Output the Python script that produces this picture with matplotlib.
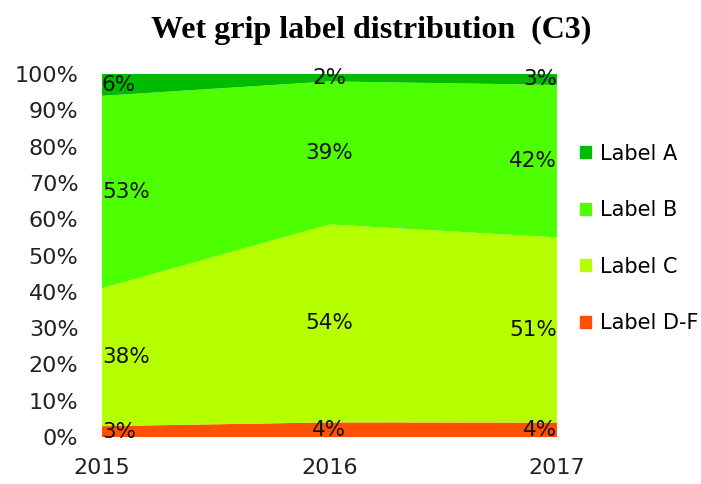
import numpy as np
import matplotlib
matplotlib.use("Agg")
import matplotlib.pyplot as plt
from matplotlib.patches import Patch

years = ["2015", "2016", "2017"]
labels = ["Label D-F", "Label C", "Label B", "Label A"]
values = {
    "Label D-F": [3, 4, 4],
    "Label C": [38, 54, 51],
    "Label B": [53, 39, 42],
    "Label A": [6, 2, 3],
}
colors = {
    "Label D-F": "#FF4F00",
    "Label C": "#B5FF00",
    "Label B": "#4DFF00",
    "Label A": "#00BB00",
}

data = np.array([values[k] for k in labels], dtype=float)
share = data / data.sum(axis=0) * 100
x = np.arange(len(years))

fig = plt.figure(figsize=(7.01, 4.84), dpi=100)
ax = fig.add_axes([0.1455, 0.097, 0.649, 0.75])

ax.stackplot(x, share, colors=[colors[k] for k in labels], linewidth=0)

# value labels in the middle of each band
bottom = np.zeros(len(years))
for k, row, raw in zip(labels, share, data):
    mid = bottom + row / 2
    for i in x:
        ha = "left" if i == 0 else ("right" if i == len(x) - 1 else "center")
        ax.text(i, mid[i], f"{int(raw[i])}%", ha=ha, va="center",
                fontsize=15.5, color="#111111")
    bottom += row

ax.set_xlim(0, len(x) - 1)
ax.set_ylim(0, 100)
ax.set_xticks(x)
ax.set_xticklabels(years)
ax.set_yticks(range(0, 101, 10))
ax.set_yticklabels([f"{v}%" for v in range(0, 101, 10)])
ax.tick_params(length=0, labelsize=16, colors="#222222")
ax.tick_params(axis="x", pad=15)
ax.tick_params(axis="y", pad=17)
for s in ax.spines.values():
    s.set_visible(False)

handles = [Patch(color=colors[k], label=k) for k in labels[::-1]]
ax.legend(handles=handles, loc="center left", bbox_to_anchor=(1.01, 0.547),
          frameon=False, fontsize=15, handlelength=0.5, handleheight=0.5,
          handletextpad=0.45, labelspacing=1.75)

fig.suptitle("Wet grip label distribution  (C3)", x=0.53, y=0.968,
             fontsize=23, fontweight="bold", family="Liberation Serif")

fig.savefig("out.png", dpi=100)
